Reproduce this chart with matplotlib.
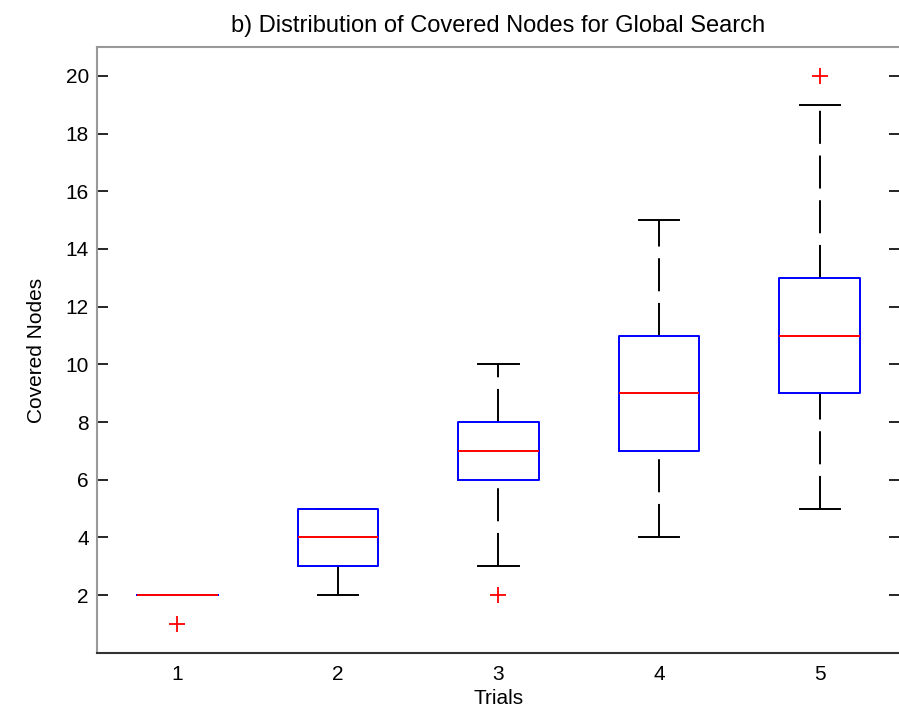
import matplotlib
matplotlib.use("Agg")
import matplotlib.pyplot as plt

plt.rcParams['font.family'] = ['Liberation Sans', 'DejaVu Sans']

# box statistics per trial
trials = [1, 2, 3, 4, 5]
whislo = [2, 2, 3, 4, 5]
q1 = [2, 3, 6, 7, 9]
med = [2, 4, 7, 9, 11]
q3 = [2, 5, 8, 11, 13]
whishi = [2, 5, 10, 15, 19]
fliers = [[1], [], [2], [], [20]]

stats = []
for i in range(len(trials)):
    stats.append(dict(whislo=whislo[i], q1=q1[i], med=med[i], q3=q3[i],
                      whishi=whishi[i], fliers=fliers[i]))

fig = plt.figure(figsize=(8.99, 7.12), dpi=100)
ax = fig.add_axes([0.108, 0.083, 0.893, 0.851])

lw = 1.4
res = ax.bxp(stats, positions=trials, widths=0.5, capwidths=0.25,
             boxprops=dict(color='#0000ff', linewidth=lw, zorder=3),
             medianprops=dict(color='#ff0000', linewidth=lw, zorder=4),
             whiskerprops=dict(color='black', linewidth=lw, linestyle=(0, (17, 6)), zorder=2),
             capprops=dict(color='black', linewidth=lw, zorder=2),
             flierprops=dict(marker='+', markeredgecolor='#ff0000', markersize=12,
                             markeredgewidth=1.3, linestyle='none'),
             manage_ticks=False)

# lower whiskers dash upward from the bottom end
for k, line in enumerate(res['whiskers']):
    if k % 2 == 0:
        xd, yd = line.get_data()
        line.set_data(xd[::-1], yd[::-1])

ax.set_xlim(0.5, 5.5)
ax.set_ylim(0, 21)
ax.set_xticks(trials)
ax.set_yticks(range(2, 21, 2))
ax.tick_params(axis='y', direction='in', length=8, width=1.2, labelsize=15,
               right=True, pad=6)
ax.tick_params(axis='x', length=0, labelsize=15, pad=9)

for s in ['left', 'top']:
    ax.spines[s].set_color('#999999')
    ax.spines[s].set_linewidth(1.5)
ax.spines['bottom'].set_color('#333333')
ax.spines['bottom'].set_linewidth(1.5)
ax.spines['right'].set_color('#999999')

ax.set_title('b) Distribution of Covered Nodes for Global Search', fontsize=17, pad=11)
ax.set_xlabel('Trials', fontsize=15, labelpad=3)
ax.set_ylabel('Covered Nodes', fontsize=15, labelpad=14)

fig.savefig('out.png', dpi=100)
